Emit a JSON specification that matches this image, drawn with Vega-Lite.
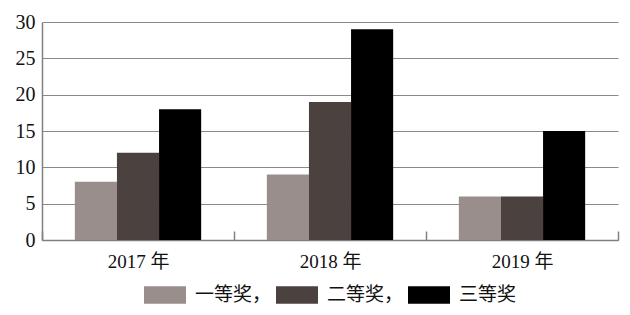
{
  "$schema": "https://vega.github.io/schema/vega-lite/v6.json",
  "autosize": "none",
  "width": 576,
  "height": 218,
  "padding": {"left": 42, "top": 22, "right": 12, "bottom": 75},
  "background": "white",
  "data": {
    "values": [
      {"year": "2017 年", "award": "一等奖，", "count": 8},
      {"year": "2017 年", "award": "二等奖，", "count": 12},
      {"year": "2017 年", "award": "三等奖", "count": 18},
      {"year": "2018 年", "award": "一等奖，", "count": 9},
      {"year": "2018 年", "award": "二等奖，", "count": 19},
      {"year": "2018 年", "award": "三等奖", "count": 29},
      {"year": "2019 年", "award": "一等奖，", "count": 6},
      {"year": "2019 年", "award": "二等奖，", "count": 6},
      {"year": "2019 年", "award": "三等奖", "count": 15}
    ]
  },
  "mark": {"type": "bar"},
  "encoding": {
    "x": {
      "field": "year",
      "type": "nominal",
      "sort": null,
      "scale": {"paddingInner": 0, "paddingOuter": 0},
      "axis": {
        "title": null,
        "labelAngle": 0,
        "tickBand": "extent",
        "tickSize": -9,
        "tickColor": "#808080",
        "tickWidth": 1.5,
        "domainColor": "#808080",
        "domainWidth": 1.5,
        "labelPadding": 21,
        "labelFont": "Liberation Serif, Noto Sans CJK SC",
        "labelFontSize": 19,
        "labelColor": "#111"
      }
    },
    "xOffset": {
      "field": "award",
      "type": "nominal",
      "sort": ["一等奖，", "二等奖，", "三等奖"],
      "scale": {"paddingInner": 0, "paddingOuter": 0.78}
    },
    "y": {
      "field": "count",
      "type": "quantitative",
      "scale": {"domain": [0, 30]},
      "axis": {
        "title": null,
        "values": [0, 5, 10, 15, 20, 25, 30],
        "ticks": false,
        "labelPadding": 7,
        "grid": true,
        "gridColor": "#8a8a8a",
        "gridWidth": 1.2,
        "domainColor": "#808080",
        "domainWidth": 1.5,
        "labelFont": "Liberation Serif",
        "labelFontSize": 20,
        "labelColor": "#111"
      }
    },
    "color": {
      "field": "award",
      "type": "nominal",
      "sort": ["一等奖，", "二等奖，", "三等奖"],
      "scale": {
        "domain": ["一等奖，", "二等奖，", "三等奖"],
        "range": ["#998e8b", "#4b413e", "#000000"]
      },
      "legend": {
        "title": null,
        "orient": "none",
        "direction": "horizontal",
        "legendX": 102,
        "legendY": 252,
        "padding": 0,
        "symbolType": "M-1,-0.42H1V0.42H-1Z",
        "symbolSize": 1764,
        "symbolStrokeWidth": 0,
        "symbolOpacity": 1,
        "labelOffset": 9,
        "columnPadding": 4,
        "labelFont": "Liberation Serif, Noto Sans CJK SC",
        "labelFontSize": 19,
        "labelColor": "#111"
      }
    }
  },
  "config": {
    "view": {"stroke": null},
    "axis": {"gridColor": "#8a8a8a"}
  }
}
